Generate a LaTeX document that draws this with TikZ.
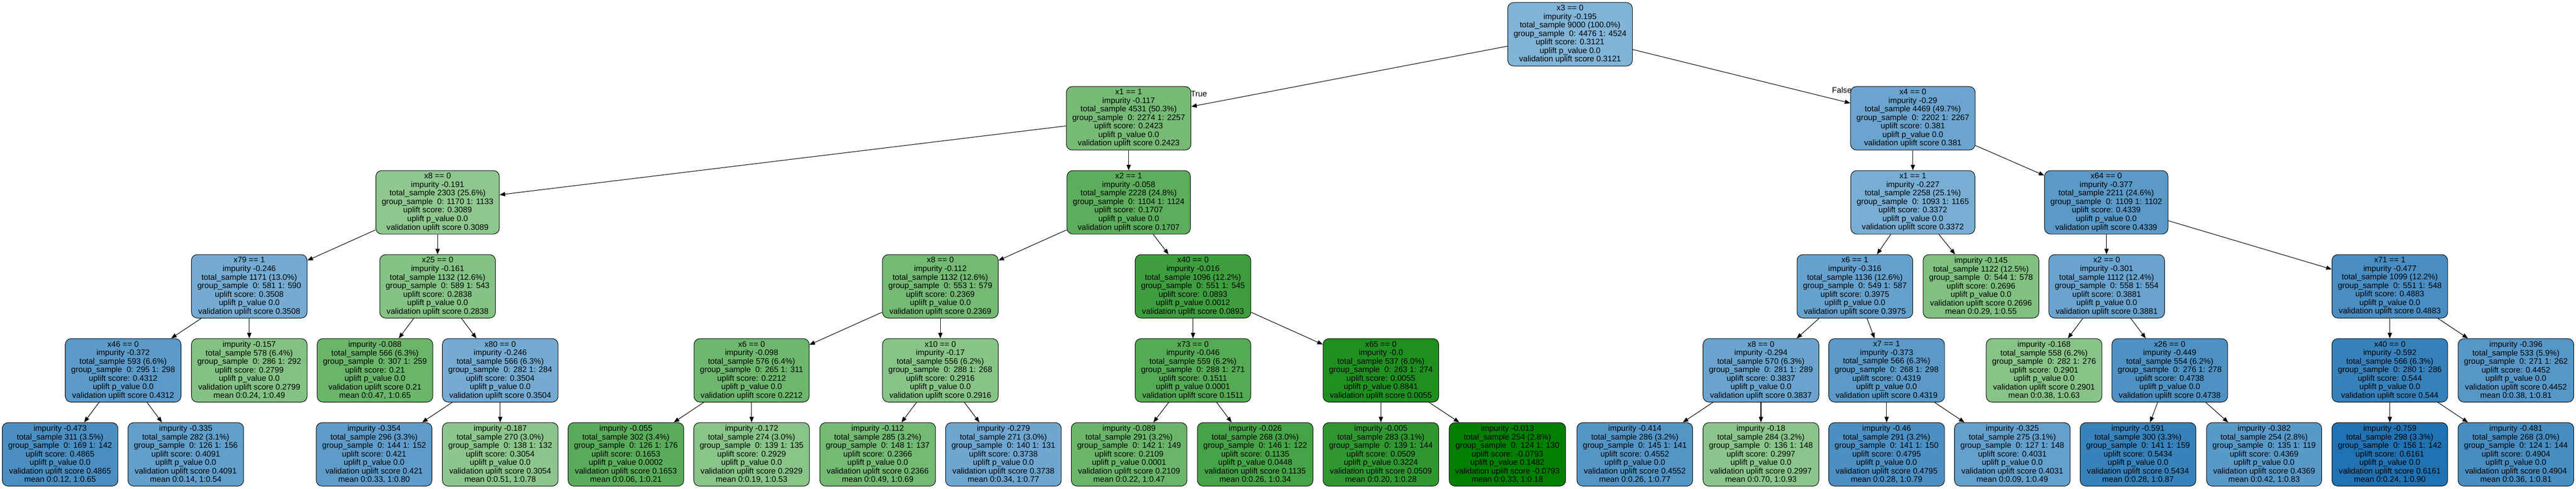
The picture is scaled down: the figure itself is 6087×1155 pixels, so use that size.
\documentclass[tikz,border=0pt]{standalone}
\usepackage{fontspec}
\setmainfont{Liberation Sans}
\usetikzlibrary{arrows.meta}
\definecolor{glight}{RGB}{143,199,143}
\definecolor{gdark}{RGB}{0,127,0}
\definecolor{blight}{RGB}{130,180,215}
\definecolor{bdark}{RGB}{31,113,178}
\newcommand\setucol[1]{%
  \pgfmathparse{(#1)<0.31?1:0}%
  \ifnum\pgfmathresult=1
    \pgfmathsetmacro\utval{min(1,max(0,(0.31-(#1))/0.39))}%
    \pgfmathsetmacro\upval{100*(1-\utval)}%
    \colorlet{ucol}{glight!\upval!gdark}%
  \else
    \pgfmathsetmacro\utval{min(1,max(0,((#1)-0.31)/0.31))}%
    \pgfmathsetmacro\upval{100*(1-\utval)}%
    \colorlet{ucol}{blight!\upval!bdark}%
  \fi}
\newcommand\tnode[5]{\setucol{#4}\node[tbox,fill=ucol] (#1) at (#2,#3) {#5};}
\newcommand\splittext[7]{#1\\impurity #2\\total\_sample #3\\group\_sample\ \ 0: #4 1: #5\\uplift score: #6\\uplift p\_value #7\\validation uplift score #6}
\newcommand\leaftext[7]{impurity #1\\total\_sample #2\\group\_sample\ \ 0: #3 1: #4\\uplift score: #5\\uplift p\_value #6\\validation uplift score #5\\mean #7}
\begin{document}
\begin{tikzpicture}[x=1pt,y=-1pt,
  tbox/.style={draw=black, line width=1.2pt, rounded corners=14pt, align=center,
    inner xsep=14pt, inner ysep=4pt, minimum height=150pt,
    font=\fontsize{19}{20.1}\selectfont},
  edge/.style={draw=black, line width=1.3pt, -{Triangle[length=13pt,width=10pt]}},
  elabel/.style={inner sep=0pt, font=\fontsize{19}{20.1}\selectfont}]
\useasboundingbox (0,0) rectangle (6087,1155);
% level 0
\tnode{root}{3710}{81}{0.3121}{\splittext{x3 == 0}{-0.195}{9000 (100.0\%)}{4476}{4524}{0.3121}{0.0}}
% level 1
\tnode{n1}{2667}{279.5}{0.2423}{\splittext{x1 == 1}{-0.117}{4531 (50.3\%)}{2274}{2257}{0.2423}{0.0}}
\tnode{n2}{4520}{279.5}{0.381}{\splittext{x4 == 0}{-0.29}{4469 (49.7\%)}{2202}{2267}{0.381}{0.0}}
% level 2
\tnode{a}{1034}{478}{0.3089}{\splittext{x8 == 0}{-0.191}{2303 (25.6\%)}{1170}{1133}{0.3089}{0.0}}
\tnode{b}{2667}{478}{0.1707}{\splittext{x2 == 1}{-0.058}{2228 (24.8\%)}{1104}{1124}{0.1707}{0.0}}
\tnode{c}{4520}{478}{0.3372}{\splittext{x1 == 1}{-0.227}{2258 (25.1\%)}{1093}{1165}{0.3372}{0.0}}
\tnode{d}{4977}{478}{0.4339}{\splittext{x64 == 0}{-0.377}{2211 (24.6\%)}{1109}{1102}{0.4339}{0.0}}
% level 3
\tnode{aa}{589}{676.5}{0.3508}{\splittext{x79 == 1}{-0.246}{1171 (13.0\%)}{581}{590}{0.3508}{0.0}}
\tnode{ab}{1034}{676.5}{0.2838}{\splittext{x25 == 0}{-0.161}{1132 (12.6\%)}{589}{543}{0.2838}{0.0}}
\tnode{ba}{2222}{676.5}{0.2369}{\splittext{x8 == 0}{-0.112}{1132 (12.6\%)}{553}{579}{0.2369}{0.0}}
\tnode{bb}{2819}{676.5}{0.0893}{\splittext{x40 == 0}{-0.016}{1096 (12.2\%)}{551}{545}{0.0893}{0.0012}}
\tnode{ca}{4383}{676.5}{0.3975}{\splittext{x6 == 1}{-0.316}{1136 (12.6\%)}{549}{587}{0.3975}{0.0}}
\tnode{cb}{4681}{676.5}{0.2696}{\leaftext{-0.145}{1122 (12.5\%)}{544}{578}{0.2696}{0.0}{0:0.29, 1:0.55}}
\tnode{da}{4978}{676.5}{0.3881}{\splittext{x2 == 0}{-0.301}{1112 (12.4\%)}{558}{554}{0.3881}{0.0}}
\tnode{db}{5647}{676.5}{0.4883}{\splittext{x71 == 1}{-0.477}{1099 (12.2\%)}{551}{548}{0.4883}{0.0}}
% level 4
\tnode{aaa}{291}{875}{0.4312}{\splittext{x46 == 0}{-0.372}{593 (6.6\%)}{295}{298}{0.4312}{0.0}}
\tnode{aab}{589}{875}{0.2799}{\leaftext{-0.157}{578 (6.4\%)}{286}{292}{0.2799}{0.0}{0:0.24, 1:0.49}}
\tnode{aba}{886}{875}{0.21}{\leaftext{-0.088}{566 (6.3\%)}{307}{259}{0.21}{0.0}{0:0.47, 1:0.65}}
\tnode{abb}{1182}{875}{0.3504}{\splittext{x80 == 0}{-0.246}{566 (6.3\%)}{282}{284}{0.3504}{0.0}}
\tnode{baa}{1776}{875}{0.2212}{\splittext{x6 == 0}{-0.098}{576 (6.4\%)}{265}{311}{0.2212}{0.0}}
\tnode{bab}{2222}{875}{0.2916}{\splittext{x10 == 0}{-0.17}{556 (6.2\%)}{288}{268}{0.2916}{0.0}}
\tnode{bba}{2819}{875}{0.1511}{\splittext{x73 == 0}{-0.046}{559 (6.2\%)}{288}{271}{0.1511}{0.0001}}
\tnode{bbb}{3263}{875}{0.0055}{\splittext{x65 == 0}{-0.0}{537 (6.0\%)}{263}{274}{0.0055}{0.8841}}
\tnode{caa}{4161}{875}{0.3837}{\splittext{x8 == 0}{-0.294}{570 (6.3\%)}{281}{289}{0.3837}{0.0}}
\tnode{cab}{4458}{875}{0.4319}{\splittext{x7 == 1}{-0.373}{566 (6.3\%)}{268}{298}{0.4319}{0.0}}
\tnode{daa}{4830}{875}{0.2901}{\leaftext{-0.168}{558 (6.2\%)}{282}{276}{0.2901}{0.0}{0:0.38, 1:0.63}}
\tnode{dab}{5127}{875}{0.4738}{\splittext{x26 == 0}{-0.449}{554 (6.2\%)}{276}{278}{0.4738}{0.0}}
\tnode{dba}{5647}{875}{0.544}{\splittext{x40 == 0}{-0.592}{566 (6.3\%)}{280}{286}{0.544}{0.0}}
\tnode{dbb}{5945}{875}{0.4452}{\leaftext{-0.396}{533 (5.9\%)}{271}{262}{0.4452}{0.0}{0:0.38, 1:0.81}}
% level 5
\tnode{l1}{142}{1073.5}{0.4865}{\leaftext{-0.473}{311 (3.5\%)}{169}{142}{0.4865}{0.0}{0:0.12, 1:0.65}}
\tnode{l2}{439}{1073.5}{0.4091}{\leaftext{-0.335}{282 (3.1\%)}{126}{156}{0.4091}{0.0}{0:0.14, 1:0.54}}
\tnode{l3}{884}{1073.5}{0.421}{\leaftext{-0.354}{296 (3.3\%)}{144}{152}{0.421}{0.0}{0:0.33, 1:0.80}}
\tnode{l4}{1182}{1073.5}{0.3054}{\leaftext{-0.187}{270 (3.0\%)}{138}{132}{0.3054}{0.0}{0:0.51, 1:0.78}}
\tnode{l5}{1479}{1073.5}{0.1653}{\leaftext{-0.055}{302 (3.4\%)}{126}{176}{0.1653}{0.0002}{0:0.06, 1:0.21}}
\tnode{l6}{1776}{1073.5}{0.2929}{\leaftext{-0.172}{274 (3.0\%)}{139}{135}{0.2929}{0.0}{0:0.19, 1:0.53}}
\tnode{l7}{2074}{1073.5}{0.2366}{\leaftext{-0.112}{285 (3.2\%)}{148}{137}{0.2366}{0.0}{0:0.49, 1:0.69}}
\tnode{l8}{2371}{1073.5}{0.3738}{\leaftext{-0.279}{271 (3.0\%)}{140}{131}{0.3738}{0.0}{0:0.34, 1:0.77}}
\tnode{l9}{2668}{1073.5}{0.2109}{\leaftext{-0.089}{291 (3.2\%)}{142}{149}{0.2109}{0.0001}{0:0.22, 1:0.47}}
\tnode{l10}{2966}{1073.5}{0.1135}{\leaftext{-0.026}{268 (3.0\%)}{146}{122}{0.1135}{0.0448}{0:0.26, 1:0.34}}
\tnode{l11}{3263}{1073.5}{0.0509}{\leaftext{-0.005}{283 (3.1\%)}{139}{144}{0.0509}{0.3224}{0:0.20, 1:0.28}}
\tnode{l12}{3562}{1073.5}{-0.0793}{\leaftext{-0.013}{254 (2.8\%)}{124}{130}{-0.0793}{0.1482}{0:0.33, 1:0.18}}
\tnode{l13}{3863}{1073.5}{0.4552}{\leaftext{-0.414}{286 (3.2\%)}{145}{141}{0.4552}{0.0}{0:0.26, 1:0.77}}
\tnode{l14}{4161}{1073.5}{0.2997}{\leaftext{-0.18}{284 (3.2\%)}{136}{148}{0.2997}{0.0}{0:0.70, 1:0.93}}
\tnode{l15}{4458}{1073.5}{0.4795}{\leaftext{-0.46}{291 (3.2\%)}{141}{150}{0.4795}{0.0}{0:0.28, 1:0.79}}
\tnode{l16}{4755}{1073.5}{0.4031}{\leaftext{-0.325}{275 (3.1\%)}{127}{148}{0.4031}{0.0}{0:0.09, 1:0.49}}
\tnode{l17}{5052}{1073.5}{0.5434}{\leaftext{-0.591}{300 (3.3\%)}{141}{159}{0.5434}{0.0}{0:0.28, 1:0.87}}
\tnode{l18}{5350}{1073.5}{0.4369}{\leaftext{-0.382}{254 (2.8\%)}{135}{119}{0.4369}{0.0}{0:0.42, 1:0.83}}
\tnode{l19}{5647}{1073.5}{0.6161}{\leaftext{-0.759}{298 (3.3\%)}{156}{142}{0.6161}{0.0}{0:0.24, 1:0.90}}
\tnode{l20}{5945}{1073.5}{0.4904}{\leaftext{-0.481}{268 (3.0\%)}{124}{144}{0.4904}{0.0}{0:0.36, 1:0.81}}
% edges
\foreach \p/\q in {root/n1,root/n2,n1/a,n1/b,n2/c,n2/d,
  a/aa,a/ab,b/ba,b/bb,c/ca,c/cb,d/da,d/db,
  aa/aaa,aa/aab,ab/aba,ab/abb,ba/baa,ba/bab,bb/bba,bb/bbb,ca/caa,ca/cab,da/daa,da/dab,db/dba,db/dbb,
  aaa/l1,aaa/l2,abb/l3,abb/l4,baa/l5,baa/l6,bab/l7,bab/l8,bba/l9,bba/l10,bbb/l11,bbb/l12,
  caa/l13,caa/l14,cab/l15,cab/l16,dab/l17,dab/l18,dba/l19,dba/l20}
  \draw[edge] (\p) -- (\q);
% edge labels
\node[elabel] (tlab) at (2833,222) {True};
\node[elabel] (flab) at (4352,213) {False};
\end{tikzpicture}
\end{document}
